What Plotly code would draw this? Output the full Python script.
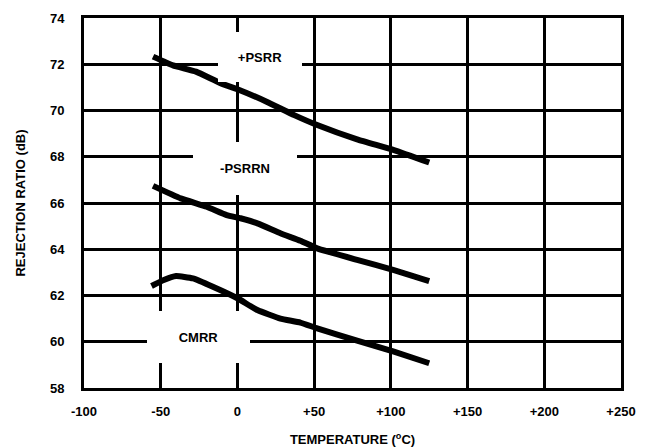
import plotly.graph_objects as go

# Data
psrr_pos_x = [-55, -42, -27, -11, 0, 19, 37, 52, 78, 102, 125]
psrr_pos_y = [72.33, 71.95, 71.68, 71.18, 70.92, 70.38, 69.8, 69.37, 68.75, 68.29, 67.75]

psrr_neg_x = [-55, -37, -20, -7, 2, 13, 28, 41, 52, 78, 102, 125]
psrr_neg_y = [66.74, 66.2, 65.84, 65.48, 65.34, 65.12, 64.69, 64.37, 64.04, 63.54, 63.1, 62.62]

cmrr_x = [-56, -48, -40, -29, -16, 0, 13, 28, 41, 52, 78, 102, 125]
cmrr_y = [62.41, 62.67, 62.84, 62.74, 62.38, 61.88, 61.37, 61.0, 60.83, 60.58, 60.05, 59.57, 59.07]

x_tickvals = [-100, -50, 0, 50, 100, 150, 200, 250]
x_ticktext = ["-100", "-50", "0", "+50", "+100", "+150", "+200", "+250"]
y_tickvals = [58, 60, 62, 64, 66, 68, 70, 72, 74]

labels = ["+PSRR", "-PSRRN", "CMRR"]
label_x = [14.7, 4.9, -25.4]
label_y = [72.31, 67.49, 60.2]
label_w = [84, 104, 103]
label_h = [50, 53, 52]

FONT = "Liberation Sans, Arial, sans-serif"

fig = go.Figure()
for xs, ys in [(psrr_pos_x, psrr_pos_y), (psrr_neg_x, psrr_neg_y), (cmrr_x, cmrr_y)]:
    fig.add_trace(go.Scatter(x=xs, y=ys, mode="lines",
                             line=dict(color="black", width=6, shape="spline", smoothing=0.4),
                             showlegend=False, hoverinfo="skip"))

for t, lx, ly, w, h in zip(labels, label_x, label_y, label_w, label_h):
    fig.add_annotation(x=lx, y=ly, xref="x", yref="y", text="<b>%s</b>" % t,
                       showarrow=False, bgcolor="white", width=w, height=h,
                       borderpad=0, borderwidth=0, align="center", valign="middle",
                       font=dict(family=FONT, size=13, color="black"))

# page body adds an 8px offset, so the figure is 640x439 with margins compensated
fig.update_layout(
    width=640, height=439,
    margin=dict(l=76, r=27, t=10, b=59, autoexpand=False),
    paper_bgcolor="white", plot_bgcolor="white",
    font=dict(family=FONT, size=13, color="black"),
    xaxis=dict(range=[-100, 250], tickvals=x_tickvals, ticktext=["<b>%s</b>" % s for s in x_ticktext],
               showgrid=True, gridcolor="black", gridwidth=3, automargin=False,
               showline=True, linecolor="black", linewidth=3, mirror=True,
               zeroline=False, ticks="", ticklabelstandoff=9,
               title=dict(text="<b>TEMPERATURE (<sup>o</sup>C)</b>", standoff=20,
                          font=dict(family=FONT, size=13))),
    yaxis=dict(range=[58, 74], tickvals=y_tickvals, ticktext=["<b>%d</b>" % v for v in y_tickvals],
               showgrid=True, gridcolor="black", gridwidth=3, automargin=False,
               showline=True, linecolor="black", linewidth=3, mirror=True,
               zeroline=False, ticks="", ticklabelstandoff=14,
               title=dict(text="<b>REJECTION RATIO (dB)</b>", standoff=22,
                          font=dict(family=FONT, size=13))),
)

fig.write_html("out.html")
